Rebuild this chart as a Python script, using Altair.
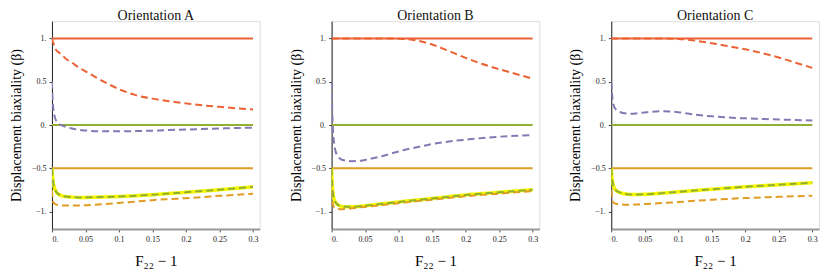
import altair as alt
import pandas as pd

# ---------------- data ----------------
X = [0, 0.001, 0.002, 0.004, 0.007, 0.01, 0.015, 0.02, 0.03, 0.04, 0.05,
     0.075, 0.1, 0.125, 0.15, 0.175, 0.2, 0.225, 0.25, 0.275, 0.3]
X_SOLID = [0, 0.3]
SOLID_LEVELS = {"red_solid": 1.0, "green_solid": 0.0, "orange_solid": -0.5}

A_red_dash = [1.0, 0.97, 0.95, 0.9, 0.86, 0.84, 0.81, 0.77, 0.72, 0.665, 0.62,
              0.51, 0.415, 0.345, 0.305, 0.275, 0.25, 0.227, 0.21, 0.193, 0.179]
A_purple_dash = [0.5, 0.3, 0.19, 0.1, 0.04, 0.015, -0.005, -0.02, -0.04, -0.055, -0.063,
                 -0.072, -0.073, -0.07, -0.065, -0.058, -0.052, -0.046, -0.04, -0.035, -0.03]
A_green_dash = [-0.5, -0.6, -0.67, -0.73, -0.78, -0.8, -0.818, -0.826, -0.833, -0.836, -0.836,
                -0.833, -0.827, -0.818, -0.806, -0.792, -0.777, -0.762, -0.747, -0.731, -0.714]
A_orange_dash = [-0.75, -0.86, -0.89, -0.91, -0.92, -0.925, -0.928, -0.93, -0.93, -0.93, -0.928,
                 -0.915, -0.9, -0.885, -0.868, -0.856, -0.845, -0.832, -0.818, -0.806, -0.794]

B_red_dash = [1.0, 1.0, 1.0, 1.0, 1.0, 1.0, 1.0, 1.0, 1.0, 1.0, 1.0,
              1.0, 0.997, 0.98, 0.93, 0.855, 0.775, 0.705, 0.645, 0.59, 0.535]
B_purple_dash = [0.5, 0.15, -0.05, -0.22, -0.33, -0.37, -0.4, -0.41, -0.418, -0.415, -0.403,
                 -0.36, -0.305, -0.26, -0.22, -0.19, -0.17, -0.15, -0.135, -0.125, -0.117]
B_green_dash = [-0.5, -0.7, -0.79, -0.86, -0.905, -0.925, -0.94, -0.945, -0.945, -0.94, -0.932,
                -0.91, -0.89, -0.868, -0.848, -0.828, -0.808, -0.792, -0.778, -0.763, -0.748]
B_orange_dash = [-0.75, -0.88, -0.92, -0.95, -0.965, -0.97, -0.972, -0.97, -0.962, -0.953, -0.945,
                 -0.925, -0.903, -0.882, -0.862, -0.842, -0.823, -0.807, -0.792, -0.778, -0.763]

C_red_dash = [1.0, 1.0, 1.0, 1.0, 1.0, 1.0, 1.0, 1.0, 1.0, 1.0, 1.0,
              1.0, 0.995, 0.975, 0.945, 0.91, 0.875, 0.83, 0.78, 0.72, 0.66]
C_purple_dash = [0.5, 0.38, 0.29, 0.22, 0.18, 0.165, 0.145, 0.135, 0.13, 0.137, 0.145,
                 0.158, 0.148, 0.12, 0.1, 0.086, 0.077, 0.07, 0.064, 0.058, 0.053]
C_green_dash = [-0.5, -0.6, -0.66, -0.72, -0.755, -0.77, -0.785, -0.795, -0.803, -0.803, -0.8,
                -0.787, -0.772, -0.757, -0.742, -0.728, -0.714, -0.702, -0.69, -0.678, -0.666]
C_orange_dash = [-0.75, -0.85, -0.88, -0.9, -0.91, -0.915, -0.918, -0.92, -0.92, -0.917, -0.913,
                 -0.902, -0.89, -0.876, -0.864, -0.853, -0.844, -0.836, -0.829, -0.823, -0.817]

PANELS = ["A", "B", "C"]
PANEL_TITLES = ["Orientation A", "Orientation B", "Orientation C"]
X_TICKS = [0, 0.05, 0.1, 0.15, 0.2, 0.25, 0.3]
Y_TICKS = [-1, -0.5, 0, 0.5, 1]

curves = {
    "A": {"red_dash": A_red_dash, "purple_dash": A_purple_dash,
          "green_dash": A_green_dash, "orange_dash": A_orange_dash},
    "B": {"red_dash": B_red_dash, "purple_dash": B_purple_dash,
          "green_dash": B_green_dash, "orange_dash": B_orange_dash},
    "C": {"red_dash": C_red_dash, "purple_dash": C_purple_dash,
          "green_dash": C_green_dash, "orange_dash": C_orange_dash},
}

rows = []
for p in PANELS:
    for s, lvl in SOLID_LEVELS.items():
        for xv in X_SOLID:
            rows.append({"panel": p, "series": s, "x": xv, "y": lvl})
    for s, ys in curves[p].items():
        for xv, yv in zip(X, ys):
            rows.append({"panel": p, "series": s, "x": xv, "y": yv})
        if s == "green_dash":
            for xv, yv in zip(X, ys):
                rows.append({"panel": p, "series": "yellow_under", "x": xv, "y": yv})
df = pd.DataFrame(rows)

RED = "#EB6235"
ORANGE = "#E19C24"
GREEN = "#8FB032"
PURPLE = "#8778B3"
YELLOW = "#F5F500"

# (series, color, dash, width) in drawing order
STYLES = [
    ("red_solid", RED, None, 2),
    ("green_solid", GREEN, None, 2),
    ("orange_solid", ORANGE, None, 2),
    ("yellow_under", YELLOW, None, 3.5),
    ("red_dash", RED, [7, 4], 2),
    ("purple_dash", PURPLE, [7, 4], 2),
    ("orange_dash", ORANGE, [7, 4], 2),
    ("green_dash", GREEN, [7, 4], 2),
]

FONT = "Liberation Serif, DejaVu Serif, serif"

x_axis = alt.Axis(
    values=X_TICKS,
    labelExpr="datum.value == 0 ? '0.' : format(datum.value, '.2~f')",
    labelFontSize=8, labelFont=FONT, labelColor="#222",
    tickSize=3, tickColor="#444",
    domainColor="#999", domainWidth=2,
    grid=False, titleFont=FONT, titleFontSize=15, titleFontWeight="normal",
    titlePadding=10, labelPadding=4,
)
y_axis = alt.Axis(
    values=Y_TICKS,
    labelExpr="datum.value == 1 ? '1.' : datum.value == 0.5 ? '0.5' : datum.value == 0 ? '0.' : datum.value == -0.5 ? '\u22120.5' : '\u22121.'",
    labelFontSize=8, labelFont=FONT, labelColor="#222",
    tickSize=3, tickColor="#444",
    domainColor="#222", domainWidth=1,
    grid=False, titleFont=FONT, titleFontSize=14, titleFontWeight="normal",
    titlePadding=8, labelPadding=3,
)


def make_panel(p, title):
    base = alt.Chart(df[df["panel"] == p])
    layers = []
    for s, color, dash, w in STYLES:
        kw = dict(color=color, strokeWidth=w, interpolate="monotone", clip=True)
        if dash:
            kw["strokeDash"] = dash
        layers.append(
            base.transform_filter(alt.datum.series == s)
            .mark_line(**kw)
            .encode(
                x=alt.X("x:Q", scale=alt.Scale(domain=[0, 0.31], nice=False, zero=False),
                        axis=x_axis, title="F\u2082\u2082 \u2212 1"),
                y=alt.Y("y:Q", scale=alt.Scale(domain=[-1.2, 1.2], nice=False),
                        axis=y_axis, title="Displacement biaxiality (\u03b2)"),
            )
        )
    return alt.layer(*layers).properties(
        width=208, height=208,
        title=alt.TitleParams(title, font=FONT, fontSize=14, fontWeight="normal",
                              color="#111", offset=-2),
    )


chart = alt.hconcat(*[make_panel(p, t) for p, t in zip(PANELS, PANEL_TITLES)], spacing=27).properties(
    padding={"left": 0, "right": 0, "top": 0, "bottom": 0}
).configure_view(stroke="#222", strokeWidth=1).configure(background="white")

chart.save("out.html", embed_options={"renderer": "svg", "actions": False})
